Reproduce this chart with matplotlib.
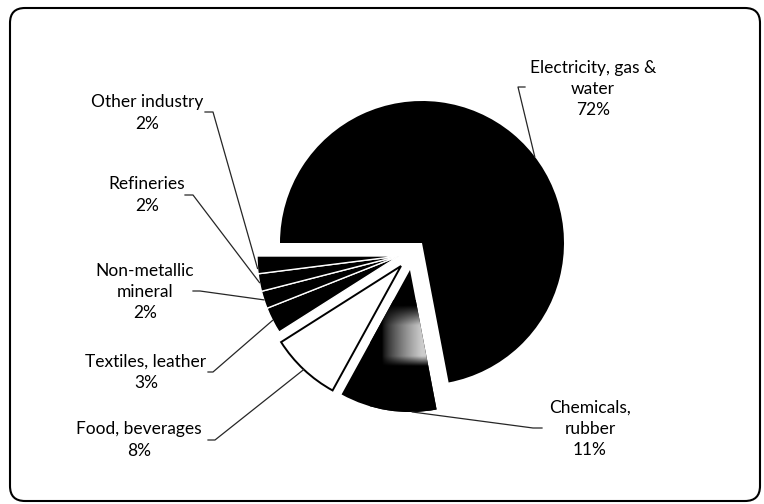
import numpy as np
import matplotlib.pyplot as plt
from matplotlib.patches import FancyBboxPatch

plt.rcParams['font.family'] = ['Lato', 'DejaVu Sans']

# --- Données ---
sectors = ["Electricity, gas &\nwater", "Chemicals,\nrubber", "Food, beverages",
           "Textiles, leather", "Non-metallic\nmineral", "Refineries", "Other industry"]
shares = [72, 11, 8, 3, 2, 2, 2]

# --- Figure : axes en pixels (y vers le bas) ---
fig = plt.figure(figsize=(7.64, 5.04), dpi=100)
ax = fig.add_axes([0, 0, 1, 1])

cx, cy, r = 399, 256, 142
wedges, _ = ax.pie(shares, startangle=180, counterclock=True, radius=r, center=(cx, cy))
ax.set_aspect('equal')
ax.axis('off')

# décalages des parts (pixels)
shifts = [(23, -13), (11, 14), (2, 10), (0, 0), (0, 0), (0, 0), (0, 0)]
faces = ['black', 'black', 'white', 'black', 'black', 'black', 'black']
edges = ['none', 'none', 'black', 'white', 'white', 'white', 'white']
widths = [0, 0, 1.4, 1.0, 1.0, 1.0, 1.0]
for w, (dx, dy), fc, ec, lw in zip(wedges, shifts, faces, edges, widths):
    w.set_center((cx + dx, cy + dy))
    w.set_facecolor(fc)
    w.set_edgecolor(ec)
    w.set_linewidth(lw)

# dégradé gris sur la part chimie
xs = np.linspace(370, 450, 160)
ys = np.linspace(300, 420, 240)
X, Y = np.meshgrid(xs, ys)
g = 0.8 * np.clip((X - 382) / 40, 0, 1) ** 0.7 * np.clip((366 - Y) / 10, 0, 1)
g *= np.clip((Y - 305) / 20, 0, 1)
im = ax.imshow(g, cmap='gray', vmin=0, vmax=1, extent=(370, 450, 420, 300),
               origin='upper', interpolation='bilinear', zorder=2)
im.set_clip_path(wedges[1])
ax.set_xlim(0, 764)
ax.set_ylim(504, 0)

# --- Étiquettes et lignes de rappel ---
label_pos = [(593, 89), (590, 429), (139, 440), (146, 372), (145, 292), (147, 195), (147, 113)]
ticks = [((525, 87), (518, 87)), ((542, 428), (533, 428)), ((208, 440), (215, 440)),
         ((208, 372), (213, 372)), ((193, 291), (200, 291)), ((185, 195), (193, 195)),
         ((205, 112), (213, 112))]
anchor = [0.55, 0.25, 0.5, 0.5, 0.5, 0.5, 0.3]

for i, (name, val) in enumerate(zip(sectors, shares)):
    w = wedges[i]
    t = np.radians(w.theta1 + anchor[i] * (w.theta2 - w.theta1))
    wx, wy = w.center
    tx, ty = wx + r * np.cos(t), wy + r * np.sin(t)
    (x0, y0), (x1, y1) = ticks[i]
    ax.plot([x0, x1, tx], [y0, y1, ty], color='0.15', lw=0.9, zorder=3)
    lx, ly = label_pos[i]
    ax.text(lx, ly, f"{name}\n{val}%", ha='center', va='center',
            fontsize=12.5, linespacing=1.4, color='black')

# --- Cadre arrondi ---
frame = FancyBboxPatch((10, 8), 750, 493, boxstyle="round,pad=0,rounding_size=15",
                       fill=False, edgecolor='black', lw=1.5, clip_on=False)
ax.add_patch(frame)

fig.savefig("out.png", dpi=100)
